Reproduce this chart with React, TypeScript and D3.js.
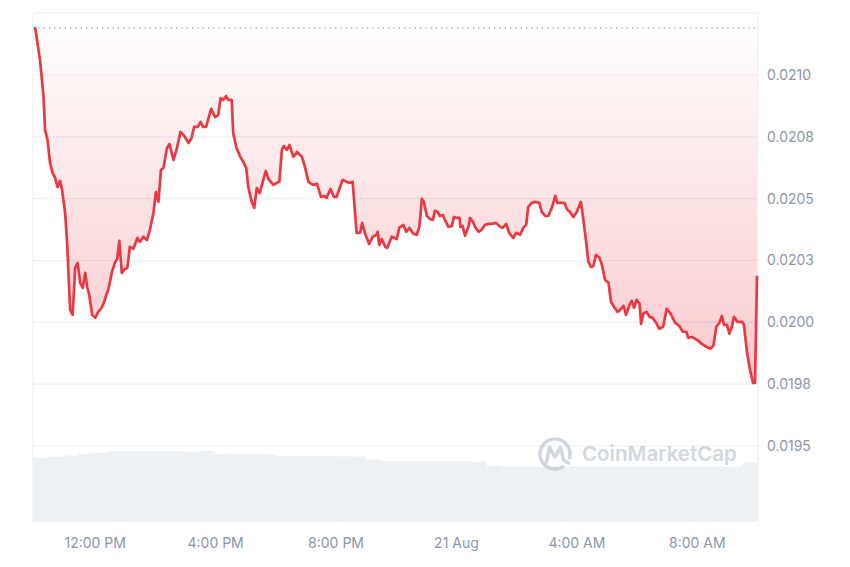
import React from "react";
import * as d3 from "d3";

// ---------- data ----------
const START = new Date(2024, 7, 20, 9, 56);
const SPAN_MIN = 1445;

const priceMinutes = [
  4, 14, 21, 24, 29, 34, 39, 44, 49, 54, 58, 64, 68, 74, 79, 84, 89, 94, 99, 104,
  108, 112, 118, 124, 130, 137, 142, 146, 150, 157, 163, 168, 172, 177, 183, 188, 193, 200, 208, 213,
  220, 227, 233, 240, 245, 250, 255, 260, 267, 272, 280, 286, 294, 300, 310, 316, 321, 328, 334, 339,
  345, 355, 363, 369, 374, 379, 385, 389, 396, 399, 405, 413, 419, 425, 429, 436, 441, 446, 452, 459,
  464, 469, 479, 486, 491, 496, 500, 506, 511, 519, 526, 536, 542, 549, 558, 566, 574, 580, 585, 593,
  600, 605, 612, 617, 625, 632, 637, 645, 652, 656, 662, 670, 677, 685, 687, 690, 695, 702, 706, 715,
  725, 730, 738, 744, 750, 758, 765, 770, 775, 779, 785, 791, 797, 801, 806, 811, 817, 821, 828, 835,
  839, 845, 850, 852, 856, 861, 868, 871, 877, 881, 888, 894, 901, 908, 914, 923, 931, 936, 943, 949,
  957, 963, 971, 977, 983, 987, 994, 1001, 1009, 1014, 1021, 1027, 1034, 1041, 1045, 1052, 1059, 1065, 1070, 1077,
  1084, 1092, 1097, 1102, 1107, 1112, 1117, 1122, 1129, 1134, 1140, 1147, 1152, 1158, 1165, 1170, 1177, 1182, 1189, 1193,
  1198, 1203, 1209, 1212, 1217, 1223, 1229, 1235, 1242, 1248, 1256, 1263, 1271, 1280, 1288, 1295, 1302, 1306, 1313, 1320,
  1326, 1333, 1342, 1350, 1356, 1362, 1368, 1373, 1377, 1383, 1388, 1393, 1397, 1404, 1413, 1417, 1423, 1429, 1435, 1439,
  1443,
];

const prices = [
  0.021195, 0.021061, 0.020912, 0.020778, 0.020737, 0.020644, 0.020604, 0.020584, 0.020547, 0.020572,
  0.020535, 0.020442, 0.020321, 0.02005, 0.02003, 0.02022, 0.02024, 0.02016, 0.020139, 0.0202,
  0.020143, 0.020111, 0.02003, 0.020018, 0.020042, 0.020059, 0.020083, 0.020111, 0.020131, 0.0202,
  0.02024, 0.020257, 0.020329, 0.0202, 0.020216, 0.02022, 0.020305, 0.020297, 0.020341, 0.020325,
  0.020346, 0.020333, 0.020374, 0.020442, 0.020527, 0.020487, 0.020616, 0.020624, 0.020705, 0.020721,
  0.020657, 0.020697, 0.02077, 0.020758, 0.020725, 0.020745, 0.02079, 0.02079, 0.02081, 0.02079,
  0.02079, 0.020863, 0.02083, 0.020838, 0.020907, 0.020899, 0.020915, 0.020899, 0.020899, 0.020766,
  0.020709, 0.020669, 0.020649, 0.020624, 0.020547, 0.020487, 0.020463, 0.020543, 0.020523, 0.020576,
  0.020612, 0.02058, 0.020556, 0.020564, 0.020568, 0.020697, 0.020713, 0.020697, 0.020717, 0.020669,
  0.020689, 0.020669, 0.020628, 0.020568, 0.020556, 0.02056, 0.020507, 0.020511, 0.020503, 0.020539,
  0.020507, 0.020507, 0.020547, 0.020576, 0.020568, 0.020564, 0.020568, 0.020362, 0.020362, 0.020402,
  0.020358, 0.020317, 0.020346, 0.020354, 0.020366, 0.020313, 0.020337, 0.020305, 0.020301, 0.020346,
  0.020337, 0.020382, 0.020394, 0.020366, 0.020382, 0.020358, 0.020354, 0.020386, 0.020499, 0.020487,
  0.02043, 0.020418, 0.020414, 0.020451, 0.020447, 0.02043, 0.020434, 0.020414, 0.020386, 0.02039,
  0.020426, 0.020422, 0.020422, 0.020386, 0.02039, 0.02035, 0.020386, 0.020422, 0.020406, 0.020386,
  0.020366, 0.020374, 0.020394, 0.020398, 0.020398, 0.020402, 0.020386, 0.020382, 0.020398, 0.020362,
  0.020341, 0.020362, 0.020354, 0.020382, 0.020394, 0.020467, 0.020483, 0.020487, 0.020483, 0.020447,
  0.02043, 0.02043, 0.020463, 0.020511, 0.020483, 0.020483, 0.020483, 0.020455, 0.020447, 0.020426,
  0.020447, 0.020487, 0.020414, 0.020333, 0.020244, 0.020224, 0.020228, 0.020273, 0.020261, 0.020232,
  0.020172, 0.02016, 0.020083, 0.020063, 0.020042, 0.02005, 0.020067, 0.02003, 0.020071, 0.020087,
  0.020059, 0.020091, 0.020075, 0.019994, 0.020038, 0.020042, 0.020022, 0.020018, 0.019998, 0.019974,
  0.019982, 0.020055, 0.020034, 0.019998, 0.019986, 0.019962, 0.019962, 0.019937, 0.019941, 0.019933,
  0.019925, 0.019913, 0.019901, 0.019893, 0.019905, 0.019982, 0.019998, 0.020026, 0.01999, 0.01999,
  0.019954, 0.019982, 0.020022, 0.020002, 0.020002, 0.01999, 0.01988, 0.019808, 0.019755, 0.019755,
  0.020188,
];

const openPrice = 0.02119;

// volume, millions, one per half-hour bucket
const volumes = [
  6.45, 6.52, 6.65, 6.85, 6.93, 7.07, 7.07, 7.07, 7.07, 7.07,
  7.02, 7.1, 6.85, 6.8, 6.77, 6.75, 6.63, 6.63, 6.63, 6.61,
  6.57, 6.55, 6.25, 6.08, 6.08, 6.08, 6.08, 6.08, 6.08, 6.05,
  5.65, 5.55, 5.55, 5.55, 5.55, 5.55, 5.55, 5.55, 5.55, 5.55,
  5.55, 5.55, 5.55, 5.55, 5.55, 5.55, 5.55, 5.95,
];

const yTicks = [0.0195, 0.01975, 0.02, 0.02025, 0.0205, 0.02075, 0.021, 0.02125];
const yTickLabels = ["0.0195", "0.0198", "0.0200", "0.0203", "0.0205", "0.0208", "0.0210", ""];

const xTickTimes = [
  new Date(2024, 7, 20, 12),
  new Date(2024, 7, 20, 16),
  new Date(2024, 7, 20, 20),
  new Date(2024, 7, 21, 0),
  new Date(2024, 7, 21, 4),
  new Date(2024, 7, 21, 8),
];
const xTickLabels = ["12:00 PM", "4:00 PM", "8:00 PM", "21 Aug", "4:00 AM", "8:00 AM"];

// ---------- chart ----------
const W = 850;
const H = 567;
const LEFT = 33;
const RIGHT = 758;
const RED = "#ea3943";
const GREEN = "#16c784";
const FONT = "Inter, 'Noto Sans', sans-serif";

export default function App() {
  const END = new Date(START.getTime() + SPAN_MIN * 60000);
  const x = d3.scaleTime().domain([START, END]).range([LEFT, RIGHT]);
  const y = d3.scaleLinear().domain([0.0195, 0.021]).range([446, 75]);
  const vy = d3.scaleLinear().domain([0, 10]).range([522, 422]);

  const pts = priceMinutes.map((m, i) => ({
    t: new Date(START.getTime() + m * 60000),
    v: prices[i],
  }));

  const line = d3
    .line<{ t: Date; v: number }>()
    .x((d) => x(d.t))
    .y((d) => y(d.v));
  const area = d3
    .area<{ t: Date; v: number }>()
    .x((d) => x(d.t))
    .y0(y(openPrice))
    .y1((d) => y(d.v));

  const baseY = y(openPrice);
  const minY = y(d3.min(prices) as number);
  const bucketMin = SPAN_MIN / volumes.length;

  const topGrid = y(yTicks[yTicks.length - 1]);

  return (
    <svg
      width={W}
      height={H}
      style={{ position: "absolute", left: 0, top: 0, background: "#fff" }}
      fontFamily={FONT}
    >
      <defs>
        <linearGradient id="redFill" gradientUnits="userSpaceOnUse" x1="0" x2="0" y1={baseY} y2={minY}>
          <stop offset="0" stopColor={RED} stopOpacity={0.01} />
          <stop offset="1" stopColor={RED} stopOpacity={0.27} />
        </linearGradient>
        <clipPath id="below">
          <rect x={0} y={baseY} width={W} height={H} />
        </clipPath>
        <clipPath id="above">
          <rect x={0} y={0} width={W} height={baseY} />
        </clipPath>
      </defs>

      {/* grid */}
      {yTicks.map((t, i) => (
        <line key={"g" + i} x1={LEFT} x2={RIGHT} y1={y(t)} y2={y(t)} stroke="#eceff3" strokeWidth={1.2} />
      ))}
      <line x1={LEFT} x2={LEFT} y1={topGrid} y2={523} stroke="#eceff3" strokeWidth={1.2} />
      <line x1={RIGHT} x2={RIGHT} y1={topGrid} y2={523} stroke="#eceff3" strokeWidth={1.2} />

      {/* volume */}
      {volumes.map((v, i) => {
        const x0 = x(new Date(START.getTime() + i * bucketMin * 60000));
        const x1 = x(new Date(START.getTime() + (i + 1) * bucketMin * 60000));
        return <rect key={"v" + i} x={x0} y={vy(v)} width={x1 - x0 + 0.3} height={vy(0) - vy(v)} fill="#eef1f4" />;
      })}

      {/* watermark */}
      <g opacity={0.85}>
        <path
          d={(() => {
            const cx = 555, cy = 454, r = 15;
            const a0 = (60 * Math.PI) / 180;
            const a1 = (375 * Math.PI) / 180;
            const p = d3.path();
            p.arc(cx, cy, r, a0, a1, false);
            return p.toString();
          })()}
          fill="none"
          stroke="#c9d0dc"
          strokeWidth={3.6}
          strokeLinecap="round"
        />
        <path
          d="M546.5,462 L549.5,447.5 L555,457 L560.5,447.5 L563.5,460 L568.5,463"
          fill="none"
          stroke="#c9d0dc"
          strokeWidth={3.6}
          strokeLinecap="round"
          strokeLinejoin="round"
        />
        <text x={582} y={461} fontSize={20.5} fontWeight={600} fill="#cbd2de">
          CoinMarketCap
        </text>
      </g>

      {/* area fill */}
      <path d={area(pts) || ""} fill="url(#redFill)" clipPath="url(#below)" />

      {/* baseline */}
      <line
        x1={LEFT}
        x2={RIGHT}
        y1={baseY}
        y2={baseY}
        stroke="#a6afbd"
        strokeWidth={1.3}
        strokeDasharray="1.3 4"
      />

      {/* price line */}
      <path d={line(pts) || ""} fill="none" stroke={RED} strokeWidth={2.7} strokeLinejoin="round" clipPath="url(#below)" />
      <path d={line(pts) || ""} fill="none" stroke={GREEN} strokeWidth={2.7} strokeLinejoin="round" clipPath="url(#above)" />

      {/* y labels */}
      {yTicks.map((t, i) =>
        yTickLabels[i] ? (
          <text key={"yl" + i} x={767} y={y(t)} dy="0.35em" fontSize={14} fill="#8d96a8">
            {yTickLabels[i]}
          </text>
        ) : null
      )}

      {/* x labels */}
      {xTickTimes.map((t, i) => (
        <text key={"xl" + i} x={x(t)} y={548} textAnchor="middle" fontSize={14} fill="#8d96a8">
          {xTickLabels[i]}
        </text>
      ))}
    </svg>
  );
}
